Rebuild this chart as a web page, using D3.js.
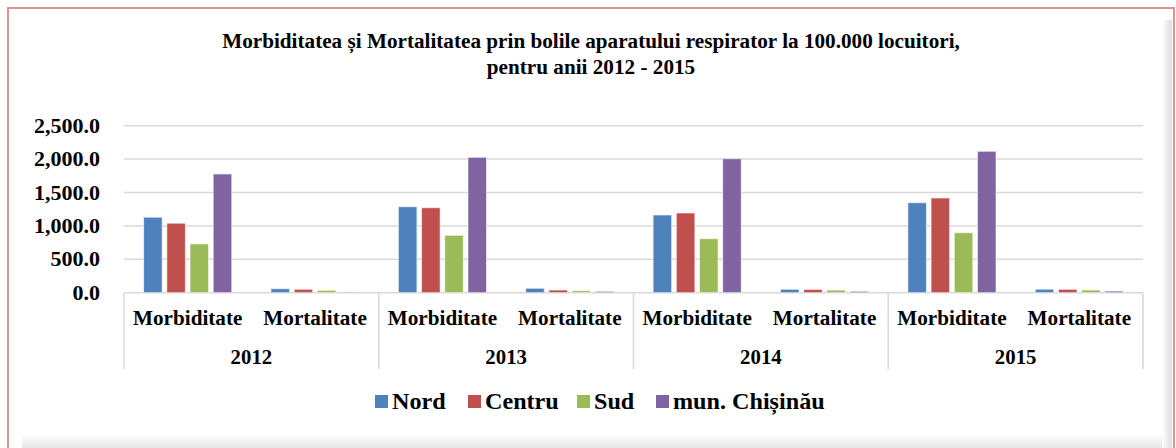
<!DOCTYPE html>
<html>
<head>
<meta charset="utf-8">
<title>Morbiditatea si Mortalitatea</title>
<script src="https://cdn.jsdelivr.net/npm/d3@7"></script>
<style>
  body { margin: 0; background: #fff; }
  svg text { font-family: "Liberation Serif", "Times New Roman", serif; font-weight: bold; fill: #000; }
</style>
</head>
<body>
<div id="chart"></div>
<script>
// data
var years = ["2012", "2013", "2014", "2015"];
var indicators = ["Morbiditate", "Mortalitate"];
var seriesNames = ["Nord", "Centru", "Sud", "mun. Chișinău"];
var seriesColors = ["#4F81BD", "#C0504D", "#9BBB59", "#8064A2"];
// order: 2012 Morb, 2012 Mort, 2013 Morb, 2013 Mort, ...
var nord     = [1130, 60, 1287, 66, 1163, 51, 1347, 52];
var centru   = [1040, 51, 1272, 40, 1193, 49, 1418, 50];
var sud      = [ 730, 36,  859, 30,  808, 39,  898, 40];
var chisinau = [1777, 11, 2027, 20, 2006, 21, 2117, 24];
var yTicks = [0, 500, 1000, 1500, 2000, 2500];
var titleLines = ["Morbiditatea și Mortalitatea prin bolile aparatului respirator la 100.000 locuitori,",
                  "pentru anii 2012 - 2015"];

var allSeries = [nord, centru, sud, chisinau];
var W = 1176, H = 448;
var plotLeft = 124, plotRight = 1143, plotTop = 125.7, plotBottom = 292.7;

var svg = d3.select("#chart").append("svg")
  .attr("width", W).attr("height", H);

// shadows and frame
var defs = svg.append("defs");
var gb = defs.append("linearGradient").attr("id", "shB").attr("x1", 0).attr("y1", 0).attr("x2", 0).attr("y2", 1);
gb.append("stop").attr("offset", "0%").attr("stop-color", "#ffffff");
gb.append("stop").attr("offset", "100%").attr("stop-color", "#e6e6e6");
var gr = defs.append("linearGradient").attr("id", "shR").attr("x1", 0).attr("y1", 0).attr("x2", 1).attr("y2", 0);
gr.append("stop").attr("offset", "0%").attr("stop-color", "#ffffff");
gr.append("stop").attr("offset", "100%").attr("stop-color", "#dcdcdc");

svg.append("rect").attr("x", 22).attr("y", 434).attr("width", 1150).attr("height", 14).attr("fill", "url(#shB)");
svg.append("rect").attr("x", 1162).attr("y", 20).attr("width", 10).attr("height", 428).attr("fill", "url(#shR)");
svg.append("rect").attr("x", 8).attr("y", 8).attr("width", 1166).attr("height", 460)
  .attr("fill", "none").attr("stroke", "#D99594").attr("stroke-width", 2);

// title
svg.selectAll(".title").data(titleLines).enter().append("text")
  .attr("class", "title")
  .attr("transform", function(d, i) { return "translate(591," + (47.5 + i * 26) + ") scale(1.06,1)"; })
  .attr("text-anchor", "middle")
  .style("font-size", "20px")
  .text(function(d) { return d; });

// scales
var catKeys = [];
years.forEach(function(yr) { indicators.forEach(function(k) { catKeys.push(yr + "|" + k); }); });

var y = d3.scaleLinear().domain([0, 2500]).range([plotBottom, plotTop]);
var x0 = d3.scaleBand().domain(catKeys).range([plotLeft, plotRight]).paddingInner(0.308).paddingOuter(0.154);
var x1 = d3.scaleBand().domain(seriesNames).range([0, x0.bandwidth()]).paddingInner(0.2);
var xYear = d3.scaleBand().domain(years).range([plotLeft, plotRight]);

// gridlines
svg.append("g").selectAll("line").data(yTicks).enter().append("line")
  .attr("x1", plotLeft).attr("x2", plotRight)
  .attr("y1", function(d) { return y(d); }).attr("y2", function(d) { return y(d); })
  .attr("stroke", "#D9D9D9").attr("stroke-width", 1.5);

// y labels
svg.append("g").selectAll("text").data(yTicks).enter().append("text")
  .attr("transform", function(d) { return "translate(100," + (y(d) + 7) + ") scale(1.1,1)"; })
  .attr("text-anchor", "end")
  .style("font-size", "20px")
  .text(function(d) { return d3.format(",.1f")(d); });

// bars
var barG = svg.append("g");
seriesNames.forEach(function(name, si) {
  barG.append("g").selectAll("rect").data(allSeries[si]).enter().append("rect")
    .attr("x", function(d, i) { return x0(catKeys[i]) + x1(name); })
    .attr("width", x1.bandwidth())
    .attr("y", function(d) { return y(d); })
    .attr("height", function(d) { return y(0) - y(d); })
    .attr("fill", seriesColors[si])
    .attr("stroke", "#ffffff").attr("stroke-opacity", 0.6).attr("stroke-width", 1);
});

// category axis separators
var seps = years.map(function(d) { return xYear(d); }).concat([plotRight]);
svg.append("g").selectAll("line").data(seps).enter().append("line")
  .attr("x1", function(d) { return d; }).attr("x2", function(d) { return d; })
  .attr("y1", plotBottom).attr("y2", 369)
  .attr("stroke", "#D9D9D9").attr("stroke-width", 1.5);

// indicator labels
svg.append("g").selectAll("text").data(catKeys).enter().append("text")
  .attr("transform", function(d) { return "translate(" + (x0(d) + x0.bandwidth() / 2) + ",325) scale(1.06,1)"; })
  .attr("text-anchor", "middle")
  .style("font-size", "20px")
  .text(function(d) { return d.split("|")[1]; });

// year labels
svg.append("g").selectAll("text").data(years).enter().append("text")
  .attr("transform", function(d) { return "translate(" + (xYear(d) + xYear.bandwidth() / 2) + ",364) scale(1.04,1)"; })
  .attr("text-anchor", "middle")
  .style("font-size", "20px")
  .text(function(d) { return d; });

// legend
var legendX = [375, 468, 577, 656];
var lg = svg.append("g").selectAll("g").data(seriesNames).enter().append("g")
  .attr("transform", function(d, i) { return "translate(" + legendX[i] + ",395)"; });
lg.append("rect").attr("width", 13).attr("height", 13)
  .attr("fill", function(d, i) { return seriesColors[i]; });
lg.append("text")
  .attr("transform", "translate(17,14) scale(1.05,1)")
  .style("font-size", "23px")
  .text(function(d) { return d; });
</script>
</body>
</html>
